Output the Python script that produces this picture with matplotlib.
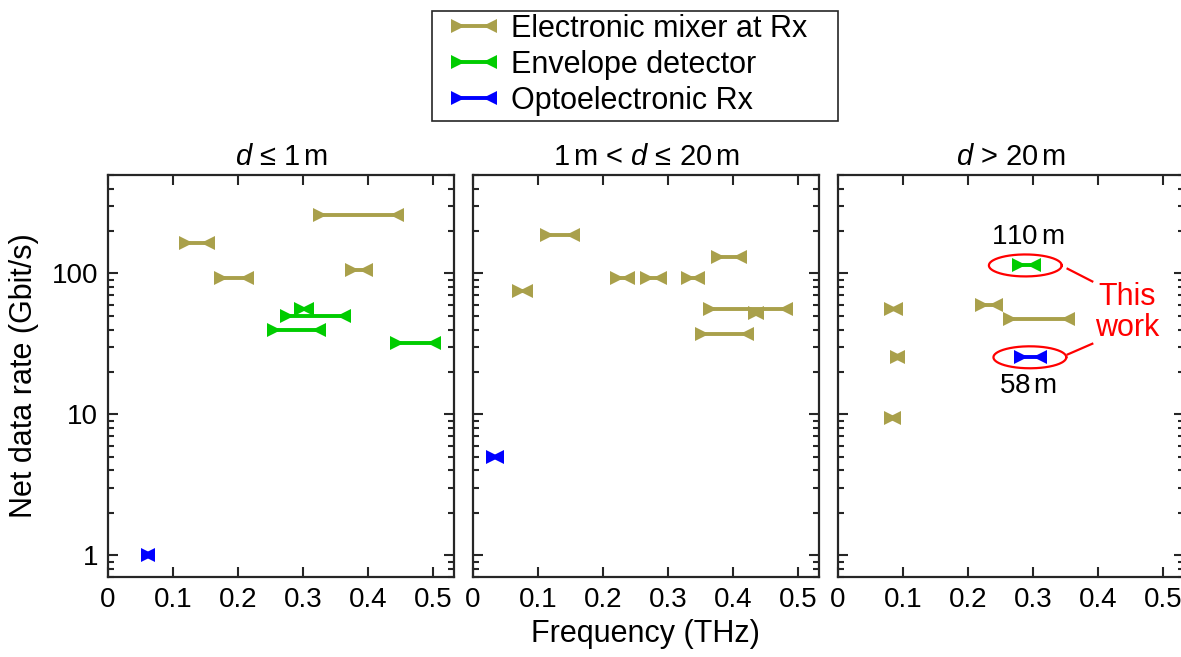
import numpy as np
import matplotlib
matplotlib.use('Agg')
import matplotlib.pyplot as plt
from matplotlib.lines import Line2D
from matplotlib.patches import Rectangle
from matplotlib.legend_handler import HandlerBase
from matplotlib.ticker import FixedLocator, LogLocator, NullFormatter

plt.rcParams.update({
    'font.family': ['Liberation Sans', 'DejaVu Sans'],
    'font.size': 20,
    'mathtext.fontset': 'custom',
    'mathtext.rm': 'Liberation Sans',
    'mathtext.it': 'Liberation Sans:italic',
})

#
# Data: frequency range (THz) and net data rate (Gbit/s)
#
categories = ['Electronic mixer at Rx', 'Envelope detector', 'Optoelectronic Rx']
colors = ['#a9a04b', '#00cc00', '#0000ff']
titles = [r'$d$ ≤ 1$\,$m', r'1$\,$m < $d$ ≤ 20$\,$m', r'$d$ > 20$\,$m']

# d <= 1 m
p1_mixer_lo = [0.120, 0.326, 0.174, 0.375]
p1_mixer_hi = [0.154, 0.445, 0.214, 0.397]
p1_mixer_rate = [164, 262, 93, 106]
p1_env_lo = [0.296, 0.275, 0.255, 0.445]
p1_env_hi = [0.306, 0.363, 0.325, 0.502]
p1_env_rate = [55.6, 50, 40, 32]
p1_opto_lo = [0.061]
p1_opto_hi = [0.061]
p1_opto_rate = [1.0]

# 1 m < d <= 20 m
p2_mixer_lo = [0.114, 0.071, 0.222, 0.268, 0.331, 0.377, 0.365, 0.433, 0.352]
p2_mixer_hi = [0.154, 0.082, 0.238, 0.288, 0.346, 0.411, 0.481, 0.437, 0.421]
p2_mixer_rate = [189, 75, 93, 93, 93, 130, 56, 52, 37.3]
p2_env_lo = []
p2_env_hi = []
p2_env_rate = []
p2_opto_lo = [0.030]
p2_opto_hi = [0.037]
p2_opto_rate = [5.0]

# d > 20 m
p3_mixer_lo = [0.082, 0.090, 0.082, 0.221, 0.265]
p3_mixer_hi = [0.089, 0.092, 0.086, 0.243, 0.353]
p3_mixer_rate = [56, 25.4, 9.4, 60, 47.4]
p3_env_lo = [0.278]
p3_env_hi = [0.302]
p3_env_rate = [115]
p3_opto_lo = [0.281]
p3_opto_hi = [0.310]
p3_opto_rate = [25.4]

panels = [
    [(p1_mixer_lo, p1_mixer_hi, p1_mixer_rate),
     (p1_env_lo, p1_env_hi, p1_env_rate),
     (p1_opto_lo, p1_opto_hi, p1_opto_rate)],
    [(p2_mixer_lo, p2_mixer_hi, p2_mixer_rate),
     (p2_env_lo, p2_env_hi, p2_env_rate),
     (p2_opto_lo, p2_opto_hi, p2_opto_rate)],
    [(p3_mixer_lo, p3_mixer_hi, p3_mixer_rate),
     (p3_env_lo, p3_env_hi, p3_env_rate),
     (p3_opto_lo, p3_opto_hi, p3_opto_rate)],
]

LW = 2.8
MS = 9.5


class RangeHandler(HandlerBase):
    """Legend entry: line with inward pointing triangles at both ends."""

    def create_artists(self, legend, orig_handle, xdescent, ydescent,
                       width, height, fontsize, trans):
        y = height / 2 - ydescent
        x0 = -xdescent + MS / 2
        x1 = width - xdescent - MS / 2
        c = orig_handle.get_color()
        seg = Line2D([x0, x1], [y, y], color=c, lw=LW, transform=trans)
        left = Line2D([x0], [y], marker='>', ms=MS, mew=0, color=c,
                      ls='none', transform=trans)
        right = Line2D([x1], [y], marker='<', ms=MS, mew=0, color=c,
                       ls='none', transform=trans)
        return [seg, left, right]


fig = plt.figure(figsize=(11.81, 6.57), dpi=100)
W, H = 1181, 657
lefts = [108, 473, 838]
axes = []
for i, l in enumerate(lefts):
    ax = fig.add_axes([l / W, (H - 577) / H, 346 / W, 402 / H])
    axes.append(ax)
    for (lo, hi, rate), c in zip(panels[i], colors):
        for a, b, r in zip(lo, hi, rate):
            ax.plot([a, b], [r, r], color=c, lw=LW, solid_capstyle='butt')
            ax.plot([a], [r], ls='none', marker='>', ms=MS, mew=0, color=c)
            ax.plot([b], [r], ls='none', marker='<', ms=MS, mew=0, color=c)
    ax.set_yscale('log')
    ax.set_xlim(0, 0.532)
    ax.set_ylim(0.7, 500)
    ax.xaxis.set_major_locator(FixedLocator([0, 0.1, 0.2, 0.3, 0.4, 0.5]))
    ax.set_xticklabels(['0', '0.1', '0.2', '0.3', '0.4', '0.5'])
    ax.yaxis.set_major_locator(FixedLocator([1, 10, 100]))
    ax.yaxis.set_minor_locator(LogLocator(base=10, subs=np.arange(2, 10)))
    ax.yaxis.set_minor_formatter(NullFormatter())
    if i == 0:
        ax.set_yticklabels(['1', '10', '100'])
    else:
        ax.set_yticklabels([])
    ax.tick_params(which='both', direction='in', top=True, right=True,
                   color='#262626', width=1.5, labelsize=20)
    ax.tick_params(which='major', length=7, pad=7)
    ax.tick_params(which='minor', length=4)
    for s in ax.spines.values():
        s.set_linewidth(1.6)
        s.set_color('#262626')
    ax.set_title(titles[i], fontsize=21, pad=7)

axes[0].set_ylabel('Net data rate (Gbit/s)', fontsize=22, labelpad=9)
fig.text(645 / W, 1 - 634 / H, 'Frequency (THz)', ha='center', va='center',
         fontsize=22)

# "This work" annotation on the last panel
ax = axes[2]
t = np.linspace(0, 2 * np.pi, 200)
for cx, cy in [(0.288, 114), (0.295, 25.4)]:
    ax.plot(cx + 0.056 * np.cos(t), cy * 10 ** (0.078 * np.sin(t)),
            color='red', lw=1.6)
ax.plot([0.353, 0.391], [108, 87.8], color='red', lw=1.6)
ax.plot([0.353, 0.391], [26.6, 31.7], color='red', lw=1.6)
ax.text(0.444, 53, 'This\nwork', color='red', fontsize=22, ha='center',
        va='center', linespacing=1.05)
ax.text(0.291, 180, r'110$\,$m', fontsize=20, ha='center', va='center')
ax.text(0.292, 16, r'58$\,$m', fontsize=20, ha='center', va='center')

# legend, with a box drawn to the size of the original
handles = [Line2D([], [], color=c, lw=LW) for c in colors]
leg = fig.legend(handles, categories, loc='upper left',
                 bbox_to_anchor=(451 / W, 1 - 14 / H), fontsize=22,
                 handler_map={Line2D: RangeHandler()}, handlelength=1.5,
                 handletextpad=0.45, labelspacing=0.19, borderpad=0,
                 borderaxespad=0, frameon=False)
fig.patches.append(Rectangle((432 / W, 1 - 121 / H), 406 / W, 110 / H,
                             transform=fig.transFigure, fill=False,
                             edgecolor='#262626', lw=1.2))

fig.savefig('out.png', dpi=100)
